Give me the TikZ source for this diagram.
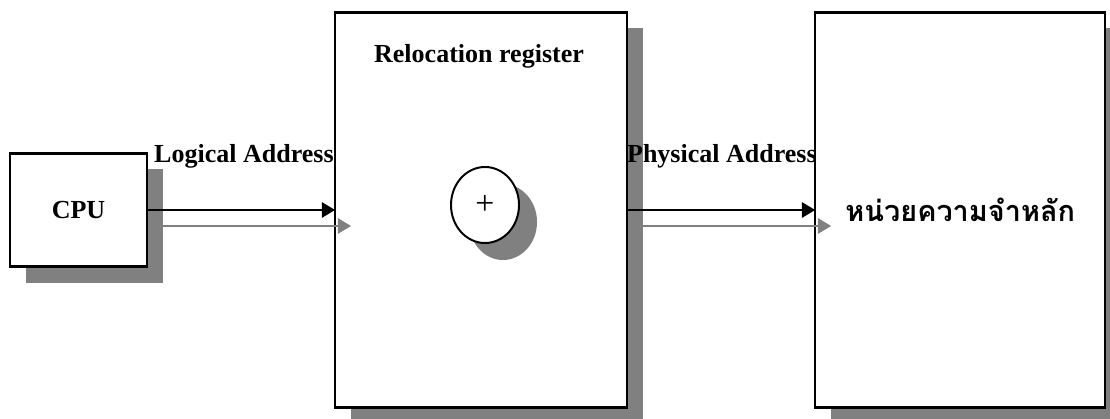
\documentclass[tikz,border=0pt]{standalone}
\usepackage{fontspec}
\setmainfont{Liberation Serif}
\newfontfamily\thaifont[Script=Thai]{Loma}
\usetikzlibrary{positioning,shadows,shapes.geometric,arrows.meta}
\definecolor{shade}{gray}{0.5}

\begin{document}
\begin{tikzpicture}[x=0.025cm,y=-0.025cm,node distance=4.7cm,
  box/.style={draw,line width=1.6pt,fill=white,inner sep=0pt,outer sep=0pt,
    drop shadow={shadow xshift=0.4cm,shadow yshift=-0.4cm,fill=shade,opacity=1}},
  lbl/.style={font=\fontsize{18.5}{22}\selectfont\bfseries,inner sep=0pt},
  flow/.style={line width=1.5pt,-{Triangle[length=3.3mm,width=3.8mm]}},
  flowshade/.style={flow,draw=shade}]
  \useasboundingbox (0,0) rectangle (1110,419);

  % the three blocks
  \node[box,lbl,minimum width=3.425cm,minimum height=2.825cm] (cpu) at (78.5,210) {CPU};
  \node[box,minimum width=7.3cm,minimum height=9.875cm,right=of cpu] (reloc) {};
  \node[box,font=\thaifont\fontsize{20.5}{24}\selectfont\bfseries,
        minimum width=7.25cm,minimum height=9.875cm,right=of reloc] (mem) {หน่วยความจำหลัก};

  % adder inside the register
  \node[ellipse,draw,line width=1.4pt,fill=white,inner sep=0pt,
        minimum width=1.7cm,minimum height=1.9cm,
        drop shadow={shadow xshift=0.45cm,shadow yshift=-0.425cm,fill=shade,opacity=1},
        font=\fontsize{24}{28}\selectfont] (adder) at (485,205) {+};

  % labels
  \node[lbl,anchor=base] (relname) at (479,63) {Relocation register};
  \node[lbl,anchor=base east] (logical) at (334,163) {Logical Address};
  \node[lbl,anchor=base east] (physical) at (817,163) {Physical Address};

  % address paths, with their shadows
  \draw[flowshade] ([shift={(16,16)}]cpu.east) -- ([shift={(16,16)}]reloc.west);
  \draw[flowshade] ([shift={(16,16)}]reloc.east) -- ([shift={(16,16)}]mem.west);
  \draw[flow] (cpu.east) -- (reloc.west);
  \draw[flow] (reloc.east) -- (mem.west);
\end{tikzpicture}
\end{document}
